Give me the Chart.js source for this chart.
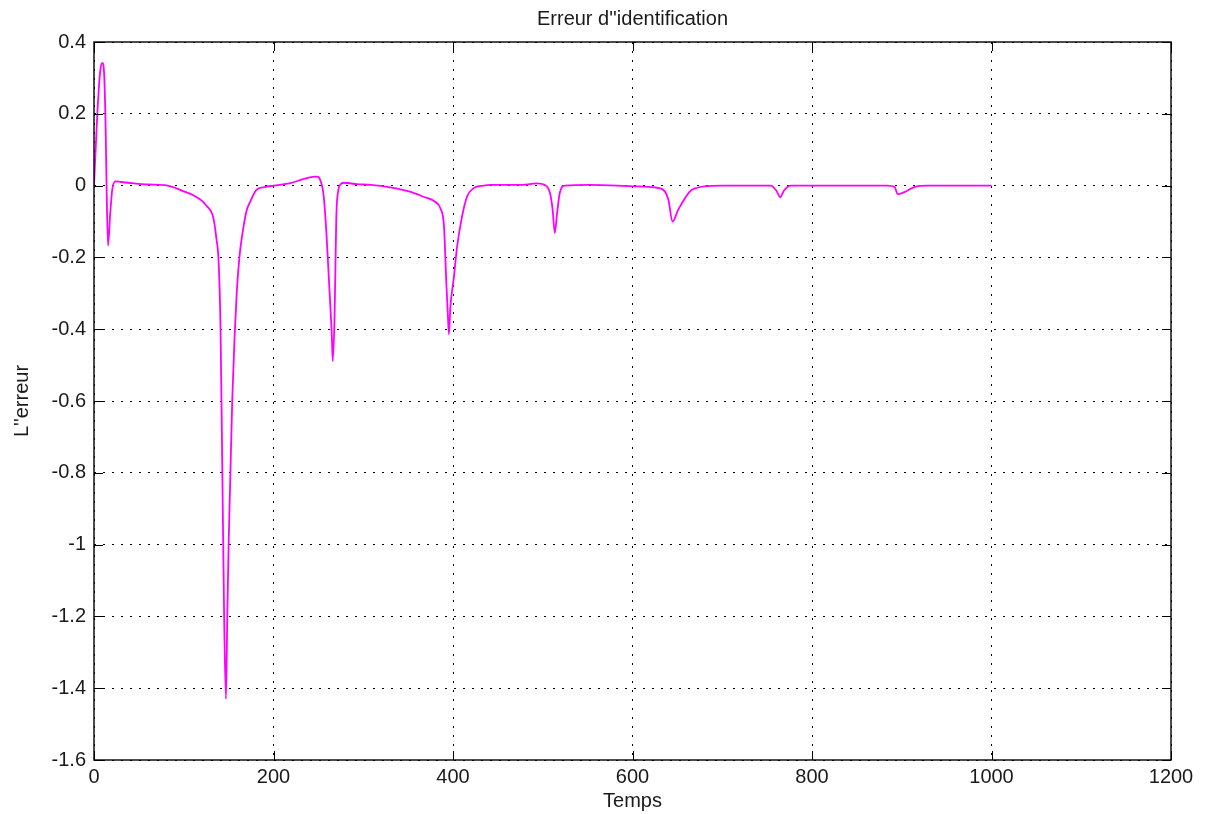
<!DOCTYPE html>
<html>
<head>
<meta charset="utf-8">
<title>Erreur d''identification</title>
<script src="https://cdn.jsdelivr.net/npm/chart.js@4/dist/chart.umd.min.js"></script>
<style>
  body { margin: 0; background: #fff; }
  #wrap { width: 1208px; height: 814px; position: relative; }
</style>
</head>
<body>
<div id="wrap"><canvas id="errorChart"></canvas></div>
<script>
const timeValues = [
  0, 3.7, 7, 9.3, 11.5, 13, 14, 15.6, 18, 20.4, 24, 30, 44.6, 60, 82, 100, 110, 118, 121, 126,
  130, 133, 136, 139, 141, 143, 145, 147, 148.5, 150, 152, 154, 156.5, 159, 162, 165, 170, 174, 181, 190,
  200, 219, 233, 246, 250, 252, 254, 256, 259, 262, 265, 266, 268, 269, 270, 272.5, 275, 278, 293, 308,
  330, 352, 367, 380, 386, 390, 392.6, 394.4, 395.5, 397, 401, 404.5, 410, 415.6, 423, 434, 441.6, 478, 493, 502,
  508, 511, 513.4, 516, 519, 524.5, 552, 600, 627, 636, 640, 644.6, 651, 664, 672, 680, 700, 721, 754, 760,
  764.7, 769, 776.6, 884, 892, 895.5, 903, 914, 929, 1000
];
const errorValues = [
  0, 0.2, 0.32, 0.342, 0.3, 0.156, 0, -0.167, -0.08, -0.01, 0.012, 0.01, 0.006, 0.003, 0, -0.016, -0.026, -0.038, -0.044, -0.058,
  -0.07, -0.09, -0.14, -0.22, -0.4, -0.8, -1.2, -1.43, -1.2, -1.0, -0.8, -0.6, -0.43, -0.3, -0.2, -0.14, -0.07, -0.045, -0.012, -0.004,
  0, 0.007, 0.018, 0.025, 0.024, 0.016, 0, -0.031, -0.134, -0.274, -0.42, -0.489, -0.367, -0.227, -0.087, -0.01, 0.004, 0.008, 0.004, 0.002,
  -0.005, -0.017, -0.031, -0.045, -0.064, -0.115, -0.274, -0.367, -0.414, -0.34, -0.255, -0.171, -0.087, -0.031, -0.007, 0, 0.002, 0.002, 0.006, 0.002,
  -0.02, -0.067, -0.132, -0.076, -0.02, 0, 0.002, -0.002, -0.006, -0.016, -0.039, -0.1, -0.067, -0.016, -0.006, -0.002, 0, 0, 0, -0.013,
  -0.032, -0.013, 0, 0, -0.004, -0.024, -0.018, -0.004, 0, 0
];
const xTicks = [0, 200, 400, 600, 800, 1000, 1200];
const yTicks = [-1.6, -1.4, -1.2, -1, -0.8, -0.6, -0.4, -0.2, 0, 0.2, 0.4];
const chartTitle = "Erreur d''identification";

const points = timeValues.map((t, i) => ({ x: t, y: errorValues[i] }));
const textColor = "#1a1a1a";
const font = { family: "'Liberation Sans', Arial, sans-serif", size: 20 };

// MATLAB style box with inward tick marks, title centred over the axes
const boxPlugin = {
  id: "box",
  afterDatasetsDraw(chart) {
    const { ctx, chartArea: a, scales } = chart;
    ctx.save();
    ctx.strokeStyle = "#000";
    ctx.lineWidth = 1;
    const len = 9;
    ctx.beginPath();
    xTicks.forEach(v => {
      const px = Math.round(scales.x.getPixelForValue(v)) + 0.5;
      ctx.moveTo(px, a.bottom); ctx.lineTo(px, a.bottom - len);
      ctx.moveTo(px, a.top); ctx.lineTo(px, a.top + len);
    });
    yTicks.forEach(v => {
      const py = Math.round(scales.y.getPixelForValue(v)) + 0.5;
      ctx.moveTo(a.left, py); ctx.lineTo(a.left + len, py);
      ctx.moveTo(a.right, py); ctx.lineTo(a.right - len, py);
    });
    ctx.stroke();
    ctx.lineWidth = 1.4;
    ctx.strokeRect(a.left, a.top, a.right - a.left, a.bottom - a.top);

    ctx.fillStyle = textColor;
    ctx.font = `${font.size}px ${font.family}`;
    ctx.textAlign = "center";
    ctx.textBaseline = "middle";
    ctx.fillText(chartTitle, (a.left + a.right) / 2, a.top - 23);
    ctx.restore();
  }
};

new Chart(document.getElementById("errorChart"), {
  type: "line",
  data: {
    datasets: [{
      label: "Erreur",
      data: points,
      borderColor: "#ff00ff",
      borderWidth: 1.8,
      pointRadius: 0,
      cubicInterpolationMode: "monotone",
      fill: false
    }]
  },
  options: {
    responsive: true,
    maintainAspectRatio: false,
    animation: false,
    layout: { padding: { left: 0, right: 37, top: 42, bottom: 0 } },
    plugins: {
      legend: { display: false },
      tooltip: { enabled: false },
      title: { display: false }
    },
    scales: {
      x: {
        type: "linear",
        min: 0,
        max: 1200,
        afterBuildTicks: s => { s.ticks = xTicks.map(v => ({ value: v })); },
        afterFit: s => { s.height = 54; },
        grid: { color: "#000", lineWidth: 1, drawTicks: false },
        border: { display: false, dash: [2, 7] },
        ticks: { color: textColor, font, padding: 5, maxRotation: 0, callback: v => String(v) },
        title: { display: true, text: "Temps", color: textColor, font, padding: { top: 0, bottom: 1 } }
      },
      y: {
        type: "linear",
        min: -1.6,
        max: 0.4,
        afterBuildTicks: s => { s.ticks = yTicks.map(v => ({ value: v })); },
        afterFit: s => { s.width = 94; },
        grid: { color: "#000", lineWidth: 1, drawTicks: false },
        border: { display: false, dash: [2, 7] },
        ticks: { color: textColor, font, padding: 8, callback: v => String(Math.round(v * 10) / 10) },
        title: { display: true, text: "L''erreur", color: textColor, font, padding: { top: 10, bottom: 0 } }
      }
    }
  },
  plugins: [boxPlugin]
});
</script>
</body>
</html>
